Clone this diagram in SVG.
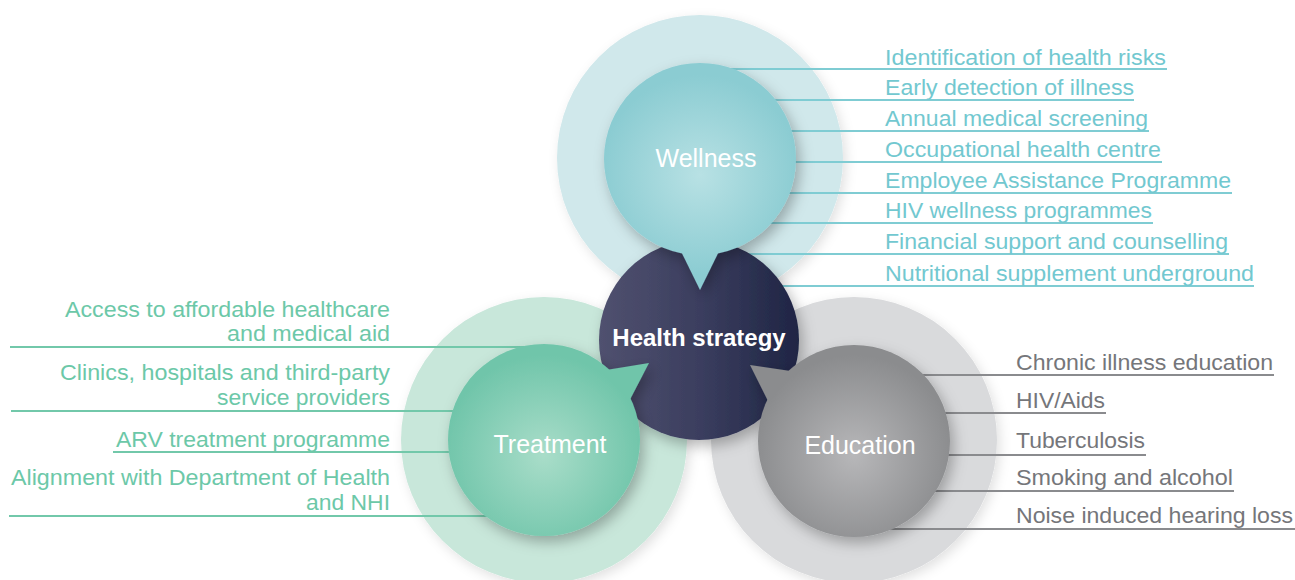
<svg xmlns="http://www.w3.org/2000/svg" width="1295" height="580" viewBox="0 0 1295 580">
  <style>
    .lbl { font-family: "Liberation Sans", Arial, sans-serif; font-size: 22px; }
    .w { fill: #72c8d0; }
    .t { fill: #6cc8a8; }
    .e { fill: #75767a; }
    .node { font-family: "Liberation Sans", Arial, sans-serif; font-size: 25px; fill: #ffffff; text-anchor: middle; }
    .hs { font-family: "Liberation Sans", Arial, sans-serif; font-size: 24px; font-weight: bold; fill: #ffffff; text-anchor: middle; }
    .cw { stroke: #7fccd3; stroke-width: 2; }
    .ct { stroke: #72c8aa; stroke-width: 2; }
    .ce { stroke: #8a8b8e; stroke-width: 2; }
  </style>
  <defs>
    <filter id="sh" x="-30%" y="-30%" width="160%" height="160%">
      <feDropShadow dx="4" dy="6" stdDeviation="7" flood-color="#000" flood-opacity="0.28"/>
    </filter>
    <filter id="shOuter" x="-20%" y="-20%" width="140%" height="140%">
      <feDropShadow dx="3" dy="4" stdDeviation="6" flood-color="#000" flood-opacity="0.12"/>
    </filter>
    <radialGradient id="gW" gradientUnits="userSpaceOnUse" cx="700" cy="175" r="100">
      <stop offset="0" stop-color="#b8e1e4"/>
      <stop offset="1" stop-color="#8bccd2"/>
    </radialGradient>
    <radialGradient id="gT" gradientUnits="userSpaceOnUse" cx="544" cy="455" r="100">
      <stop offset="0" stop-color="#a9ddc9"/>
      <stop offset="1" stop-color="#70c5aa"/>
    </radialGradient>
    <radialGradient id="gE" gradientUnits="userSpaceOnUse" cx="854" cy="455" r="100">
      <stop offset="0" stop-color="#b7b7b9"/>
      <stop offset="1" stop-color="#8b8c8e"/>
    </radialGradient>
    <linearGradient id="gH" x1="0" y1="0" x2="1" y2="0">
      <stop offset="0" stop-color="#50516f"/>
      <stop offset="0.5" stop-color="#3b3e5f"/>
      <stop offset="1" stop-color="#1f2544"/>
    </linearGradient>
  </defs>

  <rect width="1295" height="580" fill="#ffffff"/>

  <g id="rings">
    <circle cx="700" cy="158" r="143" fill="#d0e8eb" filter="url(#shOuter)"/>
    <circle cx="544" cy="440" r="143" fill="#c8e7da" filter="url(#shOuter)"/>
    <circle cx="854" cy="440" r="143" fill="#d9dadc" filter="url(#shOuter)"/>
  </g>

  <g id="connectors">
    <line class="cw" x1="700" y1="69" x2="1167" y2="69"/>
    <line class="cw" x1="700" y1="100" x2="1134" y2="100"/>
    <line class="cw" x1="700" y1="131" x2="1149" y2="131"/>
    <line class="cw" x1="700" y1="162" x2="1162" y2="162"/>
    <line class="cw" x1="700" y1="193" x2="1232" y2="193"/>
    <line class="cw" x1="700" y1="223" x2="1153" y2="223"/>
    <line class="cw" x1="700" y1="254" x2="1229" y2="254"/>
    <line class="cw" x1="700" y1="286" x2="1254" y2="286"/>

    <line class="ct" x1="10" y1="347" x2="544" y2="347"/>
    <line class="ct" x1="11" y1="411" x2="544" y2="411"/>
    <line class="ct" x1="113" y1="452" x2="544" y2="452"/>
    <line class="ct" x1="9" y1="516" x2="544" y2="516"/>

    <line class="ce" x1="854" y1="375" x2="1274" y2="375"/>
    <line class="ce" x1="854" y1="413" x2="1106" y2="413"/>
    <line class="ce" x1="854" y1="455" x2="1146" y2="455"/>
    <line class="ce" x1="854" y1="491" x2="1234" y2="491"/>
    <line class="ce" x1="854" y1="529" x2="1295" y2="529"/>
  </g>

  <g id="node-health-strategy">
    <circle cx="699" cy="340" r="100" fill="url(#gH)" filter="url(#sh)"/>
    <text class="hs" x="699" y="346">Health strategy</text>
  </g>

  <g id="node-wellness">
    <g filter="url(#sh)" fill="url(#gW)">
      <circle cx="700" cy="159" r="96"/>
      <polygon points="675,239 725,239 700,290"/>
    </g>
    <text class="node" x="706" y="167">Wellness</text>
  </g>

  <g id="node-treatment">
    <g filter="url(#sh)" fill="url(#gT)">
      <circle cx="544" cy="440" r="96"/>
      <polygon points="623,413 594,372 649,363"/>
    </g>
    <text class="node" x="550" y="453">Treatment</text>
  </g>

  <g id="node-education">
    <g filter="url(#sh)" fill="url(#gE)">
      <circle cx="854" cy="441" r="96"/>
      <polygon points="804,373 774,413 750,365"/>
    </g>
    <text class="node" x="860" y="454">Education</text>
  </g>

  <g id="labels-wellness" class="lbl w">
    <text x="885" y="65" textLength="281" lengthAdjust="spacingAndGlyphs">Identification of health risks</text>
    <text x="885" y="95" textLength="249" lengthAdjust="spacingAndGlyphs">Early detection of illness</text>
    <text x="885" y="126" textLength="263" lengthAdjust="spacingAndGlyphs">Annual medical screening</text>
    <text x="885" y="157" textLength="276" lengthAdjust="spacingAndGlyphs">Occupational health centre</text>
    <text x="885" y="188" textLength="346" lengthAdjust="spacingAndGlyphs">Employee Assistance Programme</text>
    <text x="885" y="218" textLength="267" lengthAdjust="spacingAndGlyphs">HIV wellness programmes</text>
    <text x="885" y="249" textLength="343" lengthAdjust="spacingAndGlyphs">Financial support and counselling</text>
    <text x="885" y="281" textLength="369" lengthAdjust="spacingAndGlyphs">Nutritional supplement underground</text>
  </g>

  <g id="labels-treatment" class="lbl t" text-anchor="end">
    <text x="390" y="317" textLength="325" lengthAdjust="spacingAndGlyphs">Access to affordable healthcare</text>
    <text x="390" y="341" textLength="163" lengthAdjust="spacingAndGlyphs">and medical aid</text>
    <text x="390" y="380" textLength="330" lengthAdjust="spacingAndGlyphs">Clinics, hospitals and third-party</text>
    <text x="390" y="405" textLength="173" lengthAdjust="spacingAndGlyphs">service providers</text>
    <text x="390" y="447" textLength="274" lengthAdjust="spacingAndGlyphs">ARV treatment programme</text>
    <text x="390" y="485" textLength="379" lengthAdjust="spacingAndGlyphs">Alignment with Department of Health</text>
    <text x="390" y="510" textLength="84" lengthAdjust="spacingAndGlyphs">and NHI</text>
  </g>

  <g id="labels-education" class="lbl e">
    <text x="1016" y="370" textLength="257" lengthAdjust="spacingAndGlyphs">Chronic illness education</text>
    <text x="1016" y="408" textLength="89" lengthAdjust="spacingAndGlyphs">HIV/Aids</text>
    <text x="1016" y="448" textLength="129" lengthAdjust="spacingAndGlyphs">Tuberculosis</text>
    <text x="1016" y="485" textLength="217" lengthAdjust="spacingAndGlyphs">Smoking and alcohol</text>
    <text x="1016" y="523" textLength="277" lengthAdjust="spacingAndGlyphs">Noise induced hearing loss</text>
  </g>
</svg>
